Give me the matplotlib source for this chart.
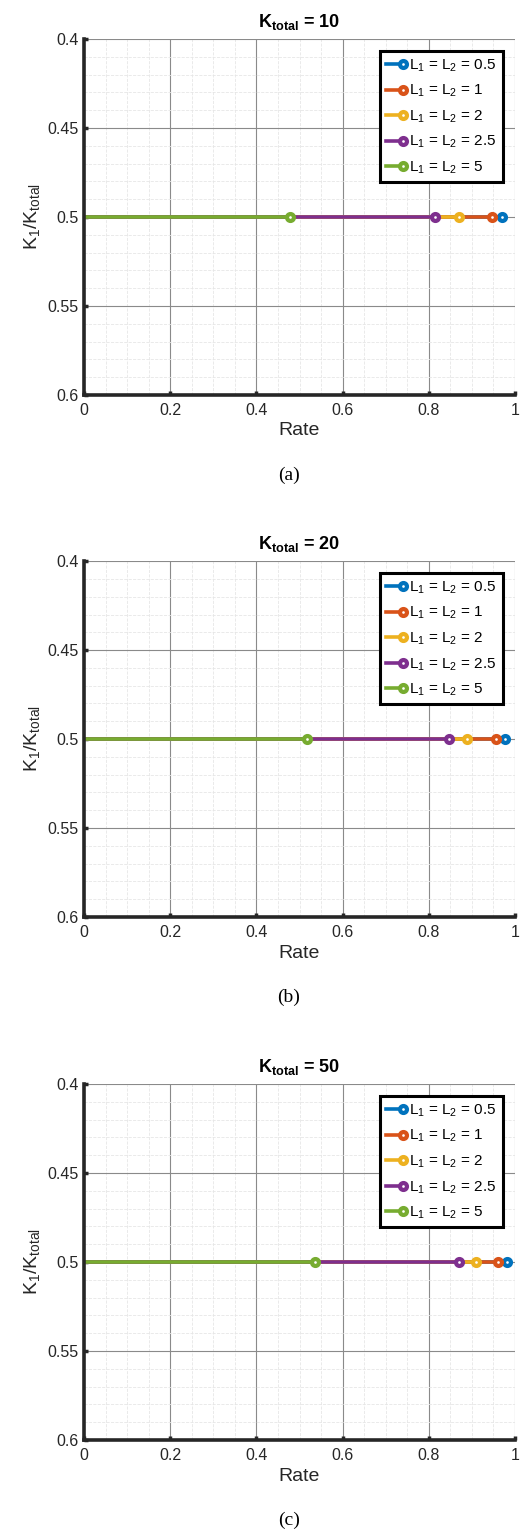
import matplotlib
matplotlib.use('Agg')
import matplotlib.pyplot as plt
from matplotlib.legend_handler import HandlerLine2D

# End points (Rate) of each curve
k_totals = [10, 20, 50]
panel_tags = ['(a)', '(b)', '(c)']
l_values = ['0.5', '1', '2', '2.5', '5']
ratio = 0.5
rates = {
    10: [0.971, 0.946, 0.871, 0.814, 0.479],
    20: [0.977, 0.955, 0.888, 0.846, 0.518],
    50: [0.981, 0.960, 0.909, 0.870, 0.537],
}
colors = ['#0072BD', '#D95319', '#EDB120', '#7E2F8E', '#77AC30']
x_ticks = [0, 0.2, 0.4, 0.6, 0.8, 1]
y_ticks = [0.4, 0.45, 0.5, 0.55, 0.6]

plt.rcParams['font.family'] = ['Liberation Sans', 'DejaVu Sans']
plt.rcParams['mathtext.fontset'] = 'custom'
plt.rcParams['mathtext.rm'] = 'Liberation Sans'
plt.rcParams['mathtext.it'] = 'Liberation Sans'
plt.rcParams['mathtext.bf'] = 'Liberation Sans:bold'


class EndMarkerHandler(HandlerLine2D):
    # marker at the right end of the legend line, like the original
    def create_artists(self, *args, **kwargs):
        artists = super().create_artists(*args, **kwargs)
        for a in artists:
            a.set_markevery([-1])
        return artists


fig = plt.figure(figsize=(5.32, 15.31), dpi=100)
dark = '#262626'
bottoms = [0.742, 0.401, 0.0594]

for k, tag, bottom in zip(k_totals, panel_tags, bottoms):
    ax = fig.add_axes([0.158, bottom, 0.810, 0.2325])
    handles = []
    for lv, r, c in zip(l_values, rates[k], colors):
        h, = ax.plot([0, r], [ratio, ratio], color=c, lw=2.6, marker='o',
                     ms=5, mew=3, mfc='white', mec=c, markevery=[-1],
                     label=r'L$_\mathregular{1}$ = L$_\mathregular{2}$ = ' + lv)
        handles.append(h)

    ax.set_xlim(0, 1)
    ax.set_ylim(0.6, 0.4)
    ax.set_xticks(x_ticks)
    ax.set_xticklabels(['0', '0.2', '0.4', '0.6', '0.8', '1'])
    ax.set_yticks(y_ticks)
    ax.set_yticklabels(['0.4', '0.45', '0.5', '0.55', '0.6'])
    ax.set_xticks([i * 0.05 for i in range(21)], minor=True)
    ax.set_yticks([0.4 + i * 0.01 for i in range(21)], minor=True)

    ax.grid(True, which='major', color='#8a8a8a', lw=0.8)
    ax.grid(True, which='minor', color='#e6e6e6', lw=0.6, ls='--')
    ax.set_axisbelow(True)

    for s in ['top', 'right']:
        ax.spines[s].set_visible(False)
    for s in ['left', 'bottom']:
        ax.spines[s].set_linewidth(2.6)
        ax.spines[s].set_color(dark)

    ax.tick_params(axis='both', which='major', direction='in', length=3,
                   width=2.5, color=dark, labelsize=11.5, labelcolor=dark)
    ax.tick_params(axis='x', pad=6)
    ax.tick_params(axis='y', pad=4)
    ax.tick_params(which='minor', length=0)

    ax.set_xlabel('Rate', fontsize=14, color=dark, labelpad=3)
    ax.set_ylabel(r'K$_\mathregular{1}$/K$_\mathregular{total}$', fontsize=14,
                  color=dark, labelpad=4)
    ax.set_title(r'K$_\mathbf{total}$ = %d' % k, fontsize=13,
                 fontweight='bold', pad=9)

    leg = ax.legend(handles=handles, loc='upper right', fontsize=11,
                    handler_map={plt.Line2D: EndMarkerHandler()},
                    fancybox=False, framealpha=1, edgecolor='black',
                    borderaxespad=0.8, handlelength=1.1, handletextpad=0.4,
                    labelspacing=0.6, borderpad=0.4)
    leg.get_frame().set_linewidth(2.2)

    fig.text(0.543, bottom - 0.0525, tag, ha='center', va='center',
             fontsize=14, family='Liberation Serif')

fig.savefig('out.png', dpi=100)
